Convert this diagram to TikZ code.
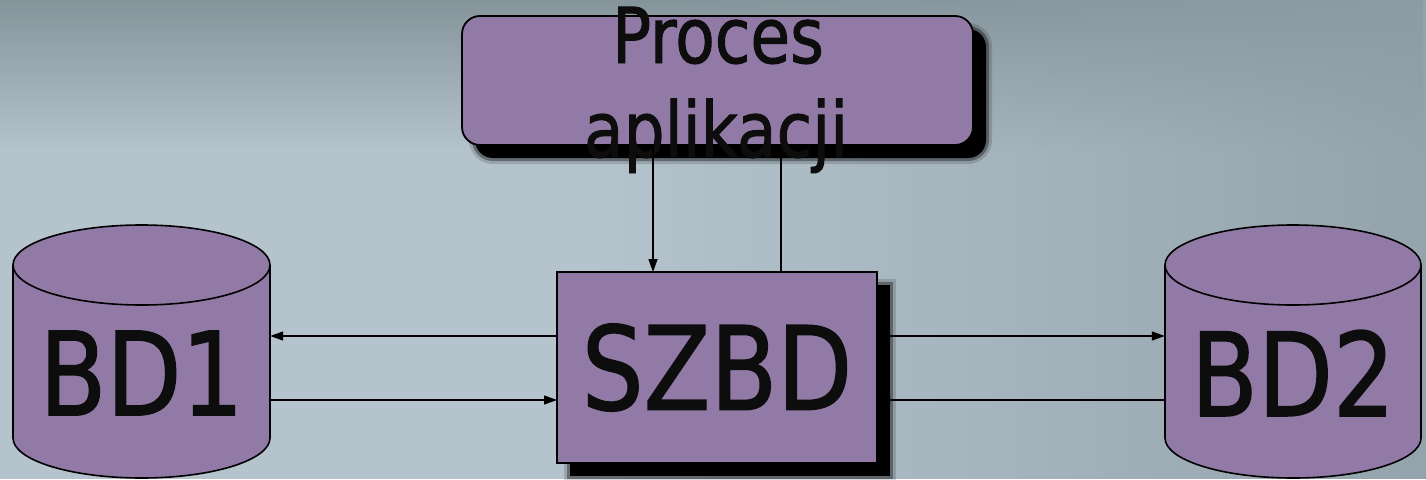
\documentclass[tikz,border=0pt]{standalone}
\usepackage{fontspec}
\setmainfont{DejaVu Sans}[FakeStretch=0.84,FakeBold=1.2]
\usetikzlibrary{arrows.meta,fadings,calc,backgrounds}
\definecolor{boxfill}{RGB}{145,122,165}
\definecolor{bgmid}{RGB}{181,195,205}
\definecolor{bgtop}{RGB}{134,148,156}
\definecolor{bgdark}{RGB}{142,158,166}
\tikzset{
  box/.style={draw=black, line width=1.8pt, fill=boxfill, inner sep=0pt, outer sep=0pt},
  bigtext/.style={font=\fontsize{116}{130}\selectfont, text=black!95},
  midtext/.style={font=\fontsize{77}{90}\selectfont, text=black!95, inner sep=0pt},
  cyl/.style={draw=black, line width=1.6pt, fill=boxfill},
  conn/.style={draw=black, line width=1.3pt, -{Triangle[length=13pt,width=9pt]}},
  shadowwide/.style={draw=black, line width=12pt, opacity=0.15},
  shadowmid/.style={draw=black, line width=6pt, opacity=0.35},
}
\begin{document}
\begin{tikzpicture}[x=1pt,y=-1pt]
\useasboundingbox (0,0) rectangle (1426,479);

% main nodes
\node[box, rounded corners=18pt, minimum width=511pt, minimum height=129pt] (proc) at (717.5,80.5) {};
\node[box, bigtext, minimum width=320pt, minimum height=191pt] (szbd) at (717,367.5) {SZBD};

% cylinders
\draw[cyl] (13,265) -- (13,438) arc[start angle=180, end angle=360, x radius=128.5pt, y radius=40pt]
  -- (270,265) arc[start angle=0, end angle=180, x radius=128.5pt, y radius=40pt] -- cycle;
\draw[cyl] (13,265) arc[start angle=180, end angle=360, x radius=128.5pt, y radius=40pt];
\draw[cyl] (1165,265) -- (1165,438) arc[start angle=180, end angle=360, x radius=128pt, y radius=40pt]
  -- (1421,265) arc[start angle=0, end angle=180, x radius=128pt, y radius=40pt] -- cycle;
\draw[cyl] (1165,265) arc[start angle=180, end angle=360, x radius=128pt, y radius=40pt];
\node[bigtext, inner sep=0pt, minimum width=257pt] (bd1) at (141.5,373) {BD1};
\node[bigtext, inner sep=0pt, minimum width=256pt] (bd2) at (1293,373) {BD2};

% labels of the process box
\node[midtext, anchor=base] (proct1) at (718,63) {Proces};
\node[midtext, anchor=base] (proct2) at (716,157) {aplikacji};

% connectors
\coordinate (xl) at (653,0);
\coordinate (xr) at (781,0);
\coordinate (yhi) at (0,336);
\coordinate (ylo) at (0,400);
\draw[conn] (proc.south -| xl) -- (szbd.north -| xl);
\draw[conn] (szbd.north -| xr) -- (proc.south -| xr);
\draw[conn] (szbd.west |- yhi) -- (bd1.east |- yhi);
\draw[conn] (bd1.east |- ylo) -- (szbd.west |- ylo);
\draw[conn] (szbd.east |- yhi) -- (bd2.west |- yhi);
\draw[conn] (bd2.west |- ylo) -- (szbd.east |- ylo);

% background and shadows
\begin{scope}[on background layer]
  \fill[bgmid] (0,0) rectangle (1426,479);
  \fill[bgtop, path fading=south] (0,0) rectangle (1426,150);
  \fill[bgdark, opacity=0.85, path fading=west] (600,0) rectangle (1426,479);
  % shadow of process box
  \draw[shadowwide, rounded corners=18pt] ($(proc.north west)+(13,13)$) rectangle ($(proc.south east)+(13,13)$);
  \draw[shadowmid, rounded corners=18pt] ($(proc.north west)+(13,13)$) rectangle ($(proc.south east)+(13,13)$);
  \fill[black, rounded corners=18pt] ($(proc.north west)+(13,13)$) rectangle ($(proc.south east)+(13,13)$);
  % shadow of SZBD box
  \draw[shadowwide] ($(szbd.north west)+(13,13)$) rectangle ($(szbd.south east)+(13,13)$);
  \draw[shadowmid] ($(szbd.north west)+(13,13)$) rectangle ($(szbd.south east)+(13,13)$);
  \fill[black] ($(szbd.north west)+(13,13)$) rectangle ($(szbd.south east)+(13,13)$);
\end{scope}
\end{tikzpicture}
\end{document}
